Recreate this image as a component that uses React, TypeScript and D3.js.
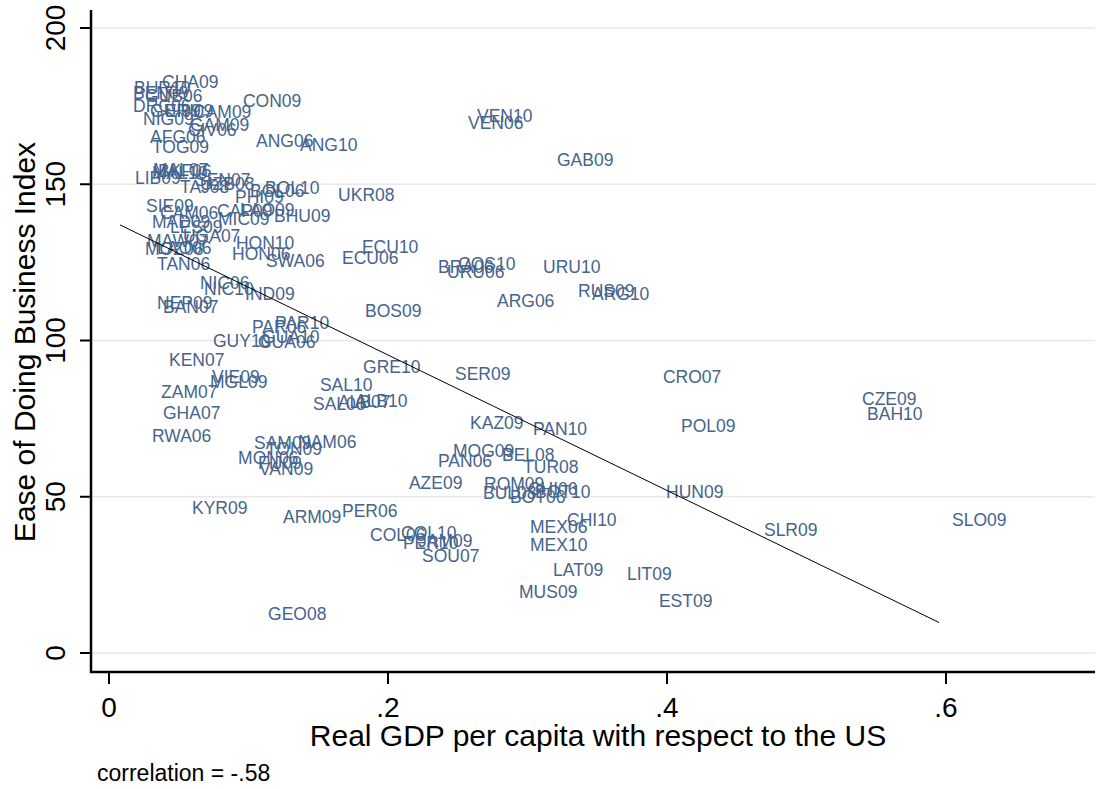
import React from "react";
import * as d3 from "d3";

// Country-year labels with GDP per capita relative to the US and Doing Business rank
const countryLabels = [
  "CHA09", "BUR10", "BEN09", "GUB06", "DRC06", "GUI09", "ERI09", "CAM09", "NIG09", "GAM09",
  "CIV06", "AFG06", "TOG09", "CON09", "ANG06", "ANG10", "VEN10", "VEN06", "GAB09", "MAL07",
  "MAL10", "BKF06", "LIB09", "SEN07", "TAJ08", "UZB08", "BOL10", "BOL06", "PHI09", "UKR08",
  "SIE09", "CAM06", "CAP09", "LAO09", "BHU09", "MAD09", "MIC09", "LES09", "UGA07", "MAW07",
  "MOZ06", "LAO06", "TAN06", "HON10", "HON06", "SWA06", "ECU10", "ECU06", "BRA06", "COS10",
  "URU06", "URU10", "NIC06", "NIC10", "IND09", "NEP09", "BAN07", "RUS09", "ARG10", "ARG06",
  "BOS09", "PAR10", "PAR06", "GUY10", "GUA10", "GUA06", "KEN07", "VIE09", "MGL09", "ZAM07",
  "GHA07", "RWA06", "SAL10", "SAL06", "ALB07", "ALB10", "GRE10", "SER09", "SAM09", "NAM06",
  "TON09", "MON06", "FIJ09", "VAN09", "KAZ09", "PAN10", "MOG09", "PAN06", "BEL08", "TUR08",
  "AZE09", "ROM09", "BUL08", "CHI06", "BOT10", "BOT06", "MEX06", "CHI10", "MEX10", "PER06",
  "ARM09", "KYR09", "COL10", "COL06", "PER10", "JAM09", "SOU07", "LAT09", "MUS09", "LIT09",
  "EST09", "GEO08", "CRO07", "POL09", "CZE09", "BAH10", "HUN09", "SLR09", "SLO09",
];

const gdpShare = [
  0.0287, 0.0086, 0.0079, 0.0165, 0.0079, 0.0201, 0.0308, 0.0509, 0.0151, 0.0487,
  0.0473, 0.0201, 0.0215, 0.0867, 0.0961, 0.1276, 0.2545, 0.248, 0.3118, 0.0222,
  0.0215, 0.0258, 0.0093, 0.0523, 0.0416, 0.0559, 0.1025, 0.0918, 0.081, 0.1549,
  0.0172, 0.0272, 0.0681, 0.0846, 0.109, 0.0215, 0.0688, 0.0344, 0.0437, 0.0179,
  0.0165, 0.0251, 0.0251, 0.0817, 0.0789, 0.1032, 0.172, 0.1577, 0.2265, 0.2409,
  0.233, 0.3018, 0.0559, 0.0588, 0.0882, 0.0251, 0.0294, 0.3269, 0.3369, 0.2688,
  0.1742, 0.1097, 0.0932, 0.0652, 0.1004, 0.0975, 0.0337, 0.0645, 0.0631, 0.028,
  0.0294, 0.0215, 0.1419, 0.1369, 0.1548, 0.167, 0.1728, 0.2387, 0.0946, 0.1262,
  0.1032, 0.0832, 0.0975, 0.0982, 0.2495, 0.2946, 0.2373, 0.2265, 0.2724, 0.2875,
  0.2057, 0.2595, 0.2588, 0.291, 0.2961, 0.2781, 0.2925, 0.319, 0.2925, 0.1577,
  0.1154, 0.0502, 0.2, 0.1778, 0.2014, 0.2122, 0.2151, 0.309, 0.2846, 0.362,
  0.3849, 0.1047, 0.3878, 0.4007, 0.5305, 0.5341, 0.39, 0.4602, 0.595,
];

const easeRank = [
  182.7, 180.8, 179.2, 178.2, 175.0, 173.4, 173.4, 173.1, 170.9, 169.0,
  167.4, 165.1, 161.9, 176.6, 163.8, 162.6, 171.8, 169.6, 157.8, 154.6,
  153.6, 154.2, 152.0, 151.4, 149.1, 150.1, 148.8, 147.8, 145.9, 146.6,
  143.0, 140.8, 141.4, 141.8, 139.8, 137.9, 138.9, 136.3, 133.4, 131.8,
  129.3, 129.6, 124.5, 131.2, 127.7, 125.4, 129.9, 126.4, 123.5, 124.5,
  121.9, 123.5, 118.4, 116.5, 114.9, 112.0, 110.7, 115.8, 114.9, 112.6,
  109.4, 105.6, 104.3, 99.8, 101.1, 99.5, 93.8, 88.3, 86.7, 83.5,
  76.8, 69.4, 85.8, 79.7, 80.3, 80.6, 91.5, 89.3, 67.2, 67.5,
  65.3, 62.4, 60.8, 58.9, 73.6, 71.7, 64.6, 61.4, 63.4, 59.5,
  54.4, 54.1, 51.2, 52.5, 51.5, 49.9, 40.3, 42.6, 34.6, 45.4,
  43.5, 46.4, 38.4, 37.8, 35.2, 35.8, 31.0, 26.6, 19.5, 25.3,
  16.6, 12.5, 88.3, 72.6, 81.3, 76.5, 51.5, 39.4, 42.6,
];

// Axis ticks
const xTicks = [0, 0.2, 0.4, 0.6];
const xTickLabels = ["0", ".2", ".4", ".6"];
const yTicks = [0, 50, 100, 150, 200];
const yTickLabels = ["0", "50", "100", "150", "200"];

// Linear fit of rank on relative GDP
const fitIntercept = 138.7;
const fitSlope = -216.7;
const correlationText = "correlation = -.58";

const W = 1101;
const H = 789;
const FONT = "'Liberation Sans', Arial, Helvetica, sans-serif";
const LABEL_COLOR = "#46648c";

export default function App() {
  const axisLeft = 91;
  const axisBottom = 672;
  const plotRight = 1095;
  const plotTop = 10;

  const x = d3.scaleLinear().domain([0, 0.6]).range([109, 946]);
  const y = d3.scaleLinear().domain([0, 200]).range([653, 28]);

  const points = countryLabels.map((label, i) => ({
    label,
    gdp: gdpShare[i],
    ease: easeRank[i],
  }));

  const [gMin, gMax] = d3.extent(gdpShare) as [number, number];
  const fitLine = d3
    .line<number>()
    .x((g) => x(g))
    .y((g) => y(fitIntercept + fitSlope * g));

  return (
    <div style={{ position: "fixed", left: 0, top: 0, width: W, height: H, background: "#fff" }}>
      <svg width={W} height={H} style={{ display: "block" }} fontFamily={FONT}>
        <rect width={W} height={H} fill="#ffffff" />

        {/* horizontal grid */}
        {yTicks.map((t) => (
          <line
            key={"g" + t}
            x1={axisLeft}
            x2={plotRight}
            y1={y(t)}
            y2={y(t)}
            stroke="#e8e8e8"
            strokeWidth={1.5}
          />
        ))}

        {/* point labels */}
        {points.map((p, i) => (
          <text
            key={p.label + i}
            x={x(p.gdp) + 13}
            y={y(p.ease)}
            dy="0.36em"
            fontSize={17.5}
            fill={LABEL_COLOR}
          >
            {p.label}
          </text>
        ))}

        {/* fitted line */}
        <path d={fitLine([gMin, gMax]) || ""} stroke="#000" strokeWidth={1} fill="none" />

        {/* axes */}
        <line x1={axisLeft} x2={axisLeft} y1={plotTop} y2={axisBottom + 1} stroke="#000" strokeWidth={2.5} />
        <line x1={axisLeft - 1} x2={plotRight} y1={axisBottom} y2={axisBottom} stroke="#000" strokeWidth={2.5} />

        {yTicks.map((t, i) => (
          <g key={"yt" + t}>
            <line x1={axisLeft - 11} x2={axisLeft} y1={y(t)} y2={y(t)} stroke="#000" strokeWidth={2} />
            <text
              transform={`translate(${65},${y(t)}) rotate(-90)`}
              textAnchor="middle"
              fontSize={28}
              fill="#000"
            >
              {yTickLabels[i]}
            </text>
          </g>
        ))}

        {xTicks.map((t, i) => (
          <g key={"xt" + t}>
            <line x1={x(t)} x2={x(t)} y1={axisBottom} y2={axisBottom + 12} stroke="#000" strokeWidth={2} />
            <text x={x(t)} y={717} textAnchor="middle" fontSize={28} fill="#000">
              {xTickLabels[i]}
            </text>
          </g>
        ))}

        {/* axis titles */}
        <text x={598} y={746} textAnchor="middle" fontSize={30} fill="#000">
          Real GDP per capita with respect to the US
        </text>
        <text
          transform={`translate(${35},${342}) rotate(-90)`}
          textAnchor="middle"
          fontSize={30}
          fill="#000"
        >
          Ease of Doing Business Index
        </text>

        <text x={97} y={781} fontSize={23} fill="#000">
          {correlationText}
        </text>
      </svg>
    </div>
  );
}
